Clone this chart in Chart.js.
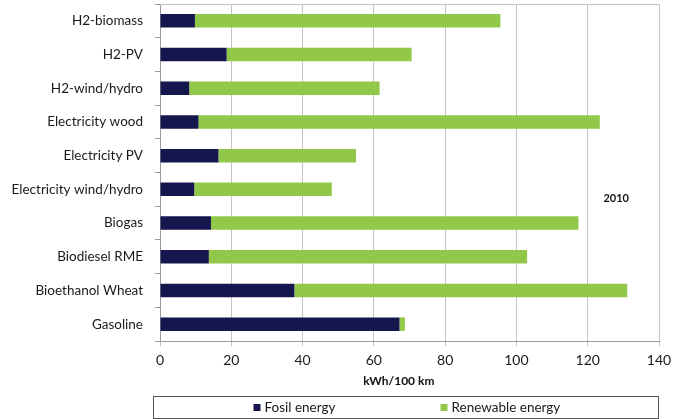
<!DOCTYPE html>
<html>
<head>
<meta charset="utf-8">
<script src="https://cdn.jsdelivr.net/npm/chart.js@4/dist/chart.umd.min.js"></script>
<style>
  html, body { margin: 0; padding: 0; background: #ffffff; }
  #wrap { width: 680px; height: 419px; }
</style>
</head>
<body>
<div id="wrap"><canvas id="c" width="680" height="419"></canvas></div>
<script>
// Energy use per 100 km by fuel pathway (kWh/100 km)
const categories = [
  'H2-biomass', 'H2-PV', 'H2-wind/hydro', 'Electricity wood', 'Electricity PV',
  'Electricity wind/hydro', 'Biogas', 'Biodiesel RME', 'Bioethanol Wheat', 'Gasoline'
];
const fossilEnergy    = [9.8, 18.7, 8.2, 10.8, 16.4, 9.6, 14.3, 13.7, 37.7, 67.2];
const renewableEnergy = [85.7, 51.9, 53.4, 112.6, 38.6, 38.6, 103.1, 89.3, 93.4, 1.5];
const seriesNames = ['Fosil energy', 'Renewable energy'];
const xTickValues = [0, 20, 40, 60, 80, 100, 120, 140];
const axisTitle = 'kWh/100 km';
const yearLabel = '2010';

const NAVY = '#16164f';
const GREEN = '#92c84a';
const GRID = '#c4c4c4';
const FONT = 'Lato, "Open Sans", "Liberation Sans", sans-serif';

Chart.defaults.font.family = FONT;
Chart.defaults.color = '#1a1a1a';

// Frame line along the top of the plot area
const frame = {
  id: 'frame',
  beforeDatasetsDraw(chart) {
    const { ctx, chartArea: a } = chart;
    ctx.save();
    ctx.strokeStyle = GRID;
    ctx.lineWidth = 1;
    ctx.beginPath();
    ctx.moveTo(a.left, Math.round(a.top) + 0.5);
    ctx.lineTo(a.right, Math.round(a.top) + 0.5);
    ctx.stroke();
    ctx.restore();
  }
};

// Year tag inside the plot and the x-axis title
const annotations = {
  id: 'annotations',
  afterDatasetsDraw(chart) {
    const { ctx, scales } = chart;
    const x = scales.x.getPixelForValue(128);
    const band = scales.y.getPixelForValue(1) - scales.y.getPixelForValue(0);
    const y = scales.y.getPixelForValue(5) + 0.26 * band;
    ctx.save();
    ctx.font = 'bold 11px ' + FONT;
    ctx.fillStyle = '#111';
    ctx.textAlign = 'center';
    ctx.textBaseline = 'middle';
    ctx.fillText(yearLabel, x, y);
    ctx.font = 'bold 12px ' + FONT;
    ctx.fillText(axisTitle, scales.x.getPixelForValue(67), scales.x.bottom - 8);
    ctx.restore();
  }
};

// Boxed legend below the axis
const boxLegend = {
  id: 'boxLegend',
  afterDraw(chart) {
    const { ctx } = chart;
    const left = 153, top = 396, w = 505, h = 22;
    ctx.save();
    ctx.fillStyle = '#fff';
    ctx.fillRect(left, top, w, h);
    ctx.strokeStyle = '#555';
    ctx.lineWidth = 1;
    ctx.strokeRect(left + 0.5, top + 0.5, w, h);
    const cx = left + w / 2;
    const starts = [cx - 152, cx + 35];
    ctx.font = '13.5px ' + FONT;
    ctx.textBaseline = 'middle';
    ctx.textAlign = 'left';
    chart.data.datasets.forEach((ds, i) => {
      ctx.fillStyle = ds.backgroundColor;
      ctx.fillRect(starts[i], top + 8, 7, 7);
      ctx.fillStyle = '#1a1a1a';
      ctx.fillText(ds.label, starts[i] + 11, top + 11.5);
    });
    ctx.restore();
  }
};

new Chart(document.getElementById('c'), {
  type: 'bar',
  data: {
    labels: categories,
    datasets: [
      { label: seriesNames[0], data: fossilEnergy, backgroundColor: NAVY },
      { label: seriesNames[1], data: renewableEnergy, backgroundColor: GREEN }
    ]
  },
  options: {
    indexAxis: 'y',
    responsive: false,
    animation: false,
    devicePixelRatio: 1,
    layout: { padding: { top: 4, right: 21, bottom: 30, left: 0 } },
    datasets: { bar: { categoryPercentage: 1, barPercentage: 0.4 } },
    plugins: { legend: { display: false }, tooltip: { enabled: false } },
    scales: {
      x: {
        stacked: true,
        min: 0,
        max: 140,
        afterBuildTicks(scale) { scale.ticks = xTickValues.map(v => ({ value: v })); },
        afterFit(scale) { scale.height = 48; scale.paddingLeft = 0; scale.paddingRight = 0; },
        grid: { color: GRID, tickLength: 5 },
        border: { color: '#9a9a9a' },
        ticks: { font: { size: 14 }, padding: 6, maxRotation: 0 }
      },
      y: {
        stacked: true,
        afterFit(scale) { scale.width = 160; scale.paddingTop = 0; scale.paddingBottom = 0; },
        grid: { drawOnChartArea: false, color: '#9a9a9a', tickLength: 5 },
        border: { color: '#9a9a9a' },
        ticks: { font: { size: 13.5 }, padding: 12 }
      }
    }
  },
  plugins: [frame, annotations, boxLegend]
});
</script>
</body>
</html>
